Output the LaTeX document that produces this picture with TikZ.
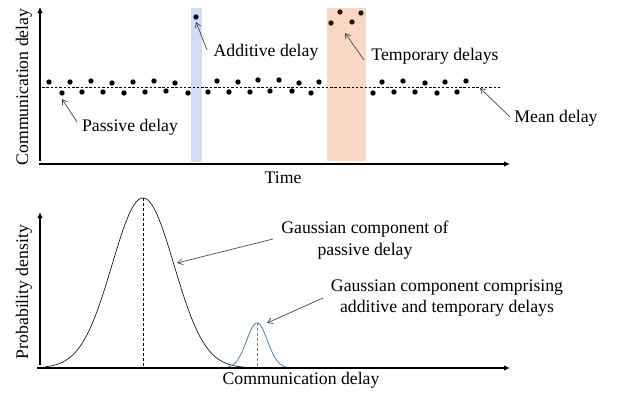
\documentclass[tikz,border=0pt]{standalone}
\usepackage{fontspec}
\setmainfont{Liberation Serif}
\usetikzlibrary{arrows.meta}
\definecolor{bandblue}{RGB}{206,223,241}
\definecolor{bandorange}{RGB}{249,216,197}
\definecolor{gblue}{RGB}{79,125,185}
\definecolor{annc}{RGB}{70,70,70}
\begin{document}
\begin{tikzpicture}[x=1pt,y=-1pt,
  axis/.style={line width=2.7pt,-{Latex[length=6pt,width=5.5pt]}},
  dot/.style={circle,fill=black,inner sep=0pt,minimum size=5.4pt},
  lbl/.style={font=\fontsize{17.7}{21.5}\selectfont,inner sep=0pt,align=center},
  ann/.style={draw=annc,line width=0.7pt,-{Straight Barb[length=5pt,width=6pt]}},
  meanline/.style={dashed,line width=0.6pt,dash pattern=on 2.5pt off 1.8pt}]
\useasboundingbox (0,0) rectangle (624,394);
% ---------- top panel ----------
\fill[bandblue] (191,8) rectangle (202,162);
\fill[bandorange] (327,8) rectangle (366,161);
\coordinate (ml0) at (42,87);
\coordinate (ml1) at (502,87);
\draw[meanline] (ml0) -- (ml1);
\foreach \px/\py [count=\i] in {49/82,70/82,91/81,112/83,133/82,154/81,175/83,217/81,238/82,258/80,279/80,299/83,319/82,382/82,403/81,425/83,445/82,466/81,
  62/93,82/92,103/92,124/93,145/92,166/91,188/93,208/92,229/92,250/92,270/91,292/91,311/93,373/93,394/92,415/92,437/93,457/92}
  \node[dot] (d\i) at (\px,\py) {};
\node[dot,fill=black!85!blue] (add) at (196,17) {};
\node[dot,fill=black!80!brown] (t1) at (331,23) {};
\node[dot,fill=black!80!brown] (t2) at (340,12) {};
\node[dot,fill=black!80!brown] (t3) at (352,22) {};
\node[dot,fill=black!80!brown] (t4) at (361,13) {};
\coordinate (o1) at (40,164);
\draw[axis] ([yshift=3pt]o1) -- (40,7);
\draw[axis] ([xshift=-1pt]o1) -- (510,164);
\node[lbl,rotate=90] (ylab1) at (24,87) {Communication delay};
\node[lbl] (xlab1) at (283,178) {Time};
\node[lbl] (passive) at (130,127) {Passive delay};
\node[lbl] (additive) at (266,52) {Additive delay};
\node[lbl] (temporary) at (435,56) {Temporary delays};
\node[lbl] (mean) at (556,118) {Mean delay};
\coordinate (pt) at (62,99);
\coordinate (ps) at (77,122);
\coordinate (at) at (196,22);
\coordinate (as) at (207,50);
\coordinate (tt) at (345,33);
\coordinate (ts) at (364,60);
\coordinate (mt) at (480,88);
\coordinate (ms) at (510,117);
\draw[ann] (ps) -- (pt);
\draw[ann] (as) -- (at);
\draw[ann] (ts) -- (tt);
\draw[ann] (ms) -- (mt);
% ---------- bottom panel ----------
\draw[line width=0.6pt,domain=45:245,samples=120,smooth] plot (\x,{368-170*exp(-((\x-143)^2)/1922)});
\draw[gblue,line width=0.8pt,domain=222:292,samples=80,smooth] plot (\x,{368-45*exp(-((\x-257)^2)/220)});
\coordinate (p1) at (143,198);
\coordinate (p1b) at (143,368);
\coordinate (p2) at (257,323);
\coordinate (p2b) at (257,368);
\draw[dashed,line width=0.6pt,dash pattern=on 3pt off 2pt] (p1) -- (p1b);
\draw[dashed,line width=0.7pt,gray,dash pattern=on 3pt off 2pt] (p2) -- (p2b);
\coordinate (o2) at (40,368);
\draw[axis] ([yshift=3pt]o2) -- (40,212);
\draw[axis] ([xshift=-3pt]o2) -- (510,368);
\node[lbl,rotate=90] (ylab2) at (24,292) {Probability density};
\node[lbl] (xlab2) at (301,380) {Communication delay};
\node[lbl] (gpass) at (365,240) {Gaussian component of\\passive delay};
\node[lbl] (gcomp) at (447,298) {Gaussian component comprising\\additive and temporary delays};
\coordinate (gpt) at (177,263);
\coordinate (gps) at (273,239);
\coordinate (gct) at (267,323);
\coordinate (gcs) at (323,298);
\draw[ann] (gps) -- (gpt);
\draw[ann] (gcs) -- (gct);
\end{tikzpicture}
\end{document}
